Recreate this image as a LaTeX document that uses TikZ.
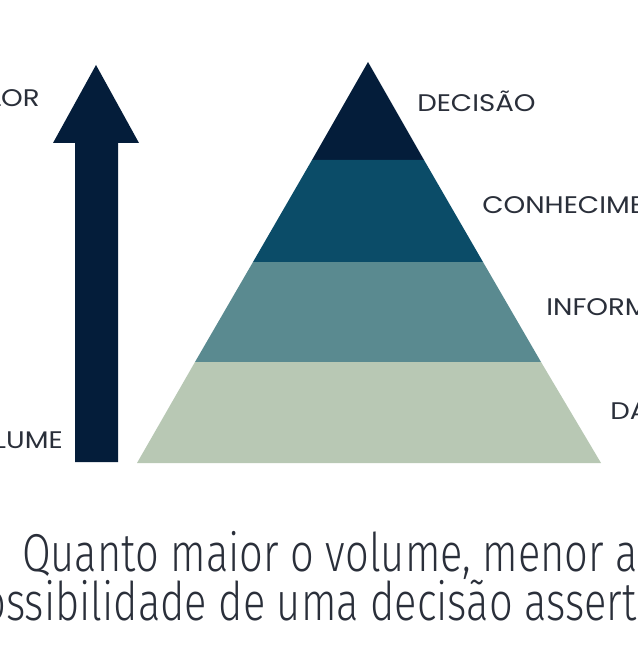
\documentclass[tikz,border=0pt]{standalone}
\usepackage{fontspec}
\setmainfont{Poppins}
\newfontfamily\capfont{Fira Sans Light}
\definecolor{c1}{HTML}{041D3A}
\definecolor{c2}{HTML}{0B4C68}
\definecolor{c3}{HTML}{5A8A90}
\definecolor{c4}{HTML}{B8C8B4}
\definecolor{tx}{HTML}{2A2F3A}
\tikzset{lbl/.style={font=\fontsize{18}{20}\selectfont, text=tx, inner sep=0pt, xscale=1.15},
captxt/.style={font=\capfont\fontsize{40}{42}\selectfont, text=tx, inner sep=0pt, xscale=0.78}}
\begin{document}
\begin{tikzpicture}[x=0.75pt,y=-0.75pt]
\useasboundingbox (0,0) rectangle (637,670);
\clip (0,0) rectangle (637,670);
\fill[white] (0,0) rectangle (637,670);
\fill[c1] (75,462) -- (75,143) -- (53,143) -- (96,65) -- (139,143) -- (118,143) -- (118,462) -- cycle;
\fill[c1] (368,62) -- (312,160) -- (424,160) -- cycle;
\fill[c2] (312,160) -- (253,262) -- (483,262) -- (424,160) -- cycle;
\fill[c3] (253,262) -- (195,362) -- (541,362) -- (483,262) -- cycle;
\fill[c4] (195,362) -- (137,463) -- (601,463) -- (541,362) -- cycle;
\node[lbl, anchor=east] (valor) at (40,98) {VALOR};
\node[lbl, anchor=east] (volume) at (63,440) {VOLUME};
\node[lbl, anchor=west] (dec) at (417,101) {DECISÃO};
\node[lbl, anchor=west] (con) at (482,205) {CONHECIMENTO};
\node[lbl, anchor=west] (inf) at (546,308) {INFORMAÇÃO};
\node[lbl, anchor=west] (dad) at (610,411) {DADOS};
\node[captxt, anchor=west] (l1) at (22,555) {Quanto maior o volume, menor a};
\node[captxt, anchor=west] (l2) at (-42,606) {possibilidade de uma decisão assertiva};
\end{tikzpicture}
\end{document}
